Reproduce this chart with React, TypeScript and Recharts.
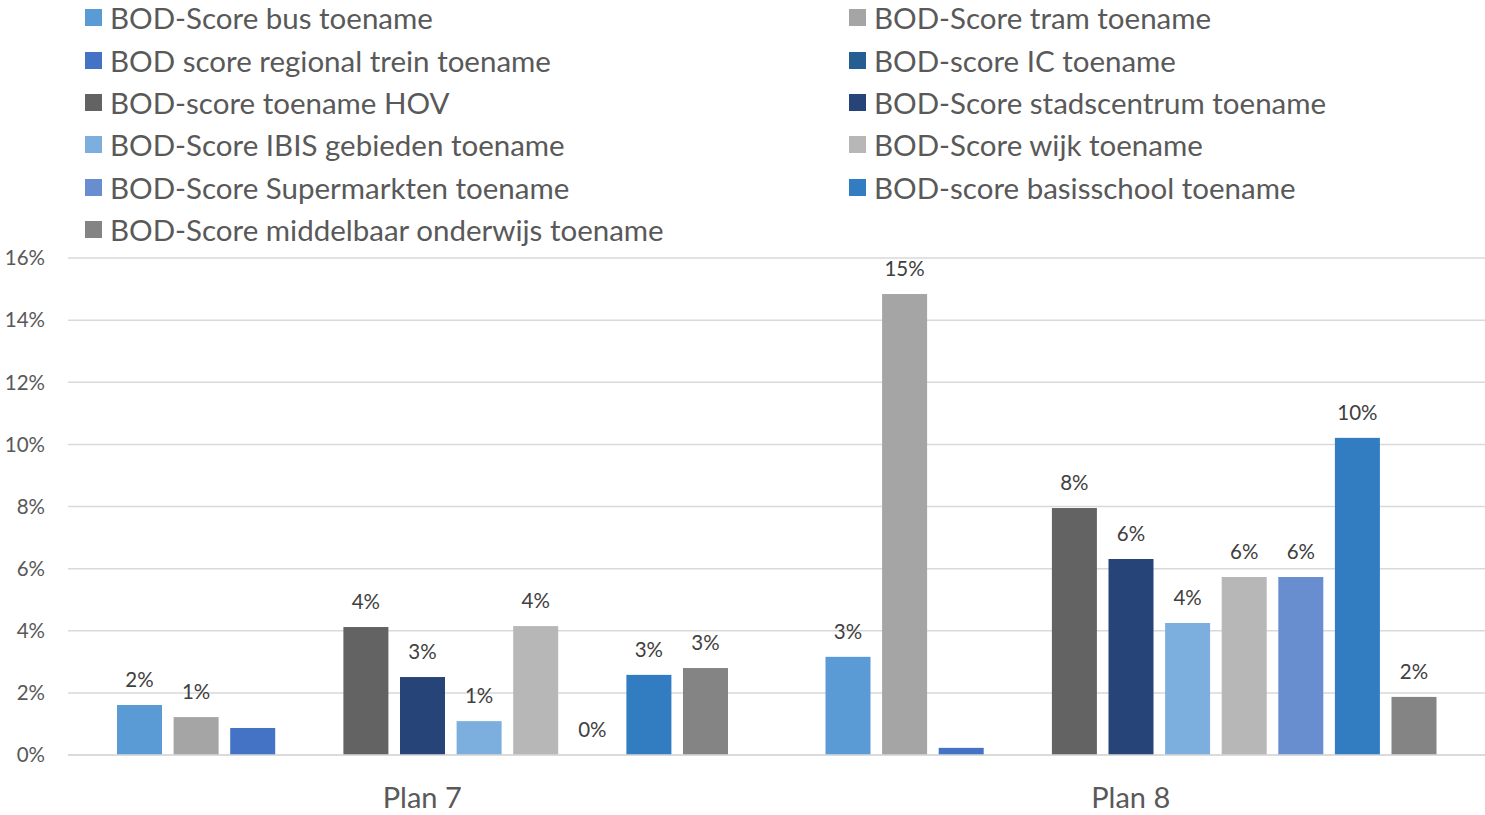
import React from 'react';
import { BarChart, Bar, XAxis, YAxis, CartesianGrid } from 'recharts';

const categories = ['Plan 7', 'Plan 8'];

const seriesNames = [
  'BOD-Score bus toename',
  'BOD-Score tram toename',
  'BOD score regional trein toename',
  'BOD-score IC toename',
  'BOD-score toename HOV',
  'BOD-Score stadscentrum toename',
  'BOD-Score IBIS gebieden toename',
  'BOD-Score wijk toename',
  'BOD-Score Supermarkten toename',
  'BOD-score basisschool toename',
  'BOD-Score middelbaar onderwijs toename',
];

const seriesColors = [
  '#5B9BD5', '#A5A5A5', '#4472C4', '#255E91', '#636363', '#264478',
  '#7CAFDD', '#B7B7B7', '#698ED0', '#327DC2', '#848484',
];

// values in percent, [Plan 7, Plan 8]
const busValues = [1.61, 3.16];
const tramValues = [1.22, 14.84];
const regionalValues = [0.87, 0.23];
const icValues: (number | null)[] = [null, null];
const hovValues = [4.12, 7.95];
const stadValues = [2.51, 6.31];
const ibisValues = [1.09, 4.25];
const wijkValues = [4.15, 5.73];
const superValues = [0, 5.73];
const basisValues = [2.58, 10.21];
const middelbaarValues = [2.8, 1.87];

const seriesValues = [
  busValues, tramValues, regionalValues, icValues, hovValues, stadValues,
  ibisValues, wijkValues, superValues, basisValues, middelbaarValues,
];

// series without data labels in the original
const noLabels = [2, 3];

const yTicks = [0, 2, 4, 6, 8, 10, 12, 14, 16];

const data = categories.map((name, i) => {
  const row: Record<string, string | number | null> = { name };
  seriesValues.forEach((vals, s) => {
    row['s' + s] = vals[i];
  });
  return row;
});

const FONT = 'Lato, "Open Sans", sans-serif';

const fmt = (v: number) => `${Math.round(v)}%`;

// bar shape that also draws its own value label, so zero-height bars get one too
const makeShape = (color: string, withLabel: boolean) => (props: any) => {
  const { x, y, width, height, value } = props;
  const val = Array.isArray(value) ? value[1] - value[0] : value;
  if (val == null) return <g />;
  const h = Math.abs(Number(height) || 0);
  const top = Number(height) < 0 ? Number(y) + Number(height) : Number(y);
  return (
    <g>
      {h > 0 && <rect x={x} y={top} width={width} height={h} fill={color} />}
      {withLabel && (
        <text
          x={Number(x) + Number(width) / 2}
          y={top - 18}
          textAnchor="middle"
          fontFamily={FONT}
          fontSize={20.5}
          fill="#404040"
        >
          {fmt(Number(val))}
        </text>
      )}
    </g>
  );
};

function LegendBlock() {
  const rows = [17, 60, 102, 144, 187, 229];
  return (
    <div style={{ position: 'absolute', left: 0, top: 0, width: 1485, height: 250 }}>
      {seriesNames.map((name, i) => {
        const col = i % 2;
        const row = Math.floor(i / 2);
        const left = col === 0 ? 85 : 849;
        return (
          <div
            key={name}
            style={{
              position: 'absolute',
              left,
              top: rows[row] - 20,
              height: 40,
              display: 'flex',
              alignItems: 'center',
              whiteSpace: 'nowrap',
              fontFamily: FONT,
              fontSize: 29.5,
              color: '#595959',
            }}
          >
            <span
              style={{
                display: 'inline-block',
                width: 17,
                height: 17,
                background: seriesColors[i],
                marginRight: 8,
              }}
            />
            {name}
          </div>
        );
      })}
    </div>
  );
}

export default function App() {
  return (
    <div style={{ position: 'absolute', left: 0, top: 0, width: 1485, height: 815, background: '#fff' }}>
      <LegendBlock />
      <div style={{ position: 'absolute', left: 0, top: 0 }}>
        <BarChart
          width={1485}
          height={815}
          data={data}
          margin={{ top: 258, right: 0, bottom: 0, left: 0 }}
          barCategoryGap={49}
          barGap={11.6}
        >
          <CartesianGrid vertical={false} stroke="#d9d9d9" strokeWidth={1.5} />
          <XAxis
            dataKey="name"
            height={60}
            axisLine={{ stroke: '#d9d9d9', strokeWidth: 1.5 }}
            tickLine={false}
            tickMargin={26}
            tick={{ fontFamily: FONT, fontSize: 29, fill: '#595959' }}
          />
          <YAxis
            width={68}
            domain={[0, 16]}
            ticks={yTicks}
            axisLine={false}
            tickLine={false}
            tickSize={0}
            tickMargin={23}
            tickFormatter={(v) => `${v}%`}
            tick={{ fontFamily: FONT, fontSize: 20.5, fill: '#595959' }}
          />
          {seriesNames.map((name, s) => (
            <Bar
              key={name}
              dataKey={'s' + s}
              name={name}
              fill={seriesColors[s]}
              isAnimationActive={false}
              shape={makeShape(seriesColors[s], !noLabels.includes(s))}
            />
          ))}
        </BarChart>
      </div>
    </div>
  );
}
